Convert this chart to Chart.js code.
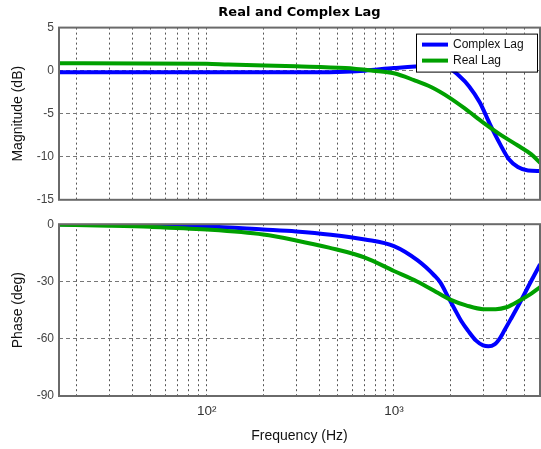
<!DOCTYPE html>
<html>
  <head>
    <title>Real and Complex Lag</title>
    <style>
      body { margin: 0; background: #fff; }
      #wrap { position: relative; width: 541px; height: 449px; }
      canvas { position: absolute; left: 0; }
    </style>
  </head>
  <body>
    <div id="wrap">
      <canvas id="magChart" width="541" height="212" style="top: 0"></canvas>
      <canvas id="phaseChart" width="541" height="237" style="top: 212px"></canvas>
    </div>

    <script src="https://cdn.jsdelivr.net/npm/chart.js@4"></script>
    <script>
      // frequency axis (Hz), log scale
      const xMin = 16.2;
      const xMax = 6040;
      const xGridLines = [20, 30, 40, 50, 60, 70, 80, 90, 100, 200, 300, 400, 500, 600, 700, 800, 900, 1000, 2000, 3000, 4000, 5000, 6000];
      const xTickValues = [100, 1000];
      const xTickLabels = ["10\u00b2", "10\u00b3"];

      // magnitude (dB)
      const magFreqComplex = [16, 100, 300, 500, 700, 1000, 1500, 1800, 1970, 2230, 2520, 2880, 3260, 3690, 4120, 4600, 5210, 6050];
      const magComplex = [-0.2, -0.2, -0.2, -0.15, 0, 0.3, 0.5, 0.5, 0.3, -0.6, -1.8, -3.7, -6.2, -8.5, -10.3, -11.2, -11.6, -11.65];
      const magFreqReal = [16, 100, 130, 300, 550, 770, 1000, 1280, 1580, 1970, 2430, 2990, 3690, 4600, 5410, 6050];
      const magReal = [0.85, 0.8, 0.7, 0.5, 0.3, 0, -0.3, -1.1, -1.9, -3.1, -4.5, -6.0, -7.4, -8.7, -9.7, -10.7];

      // phase (deg)
      const phFreqComplex = [16, 30, 50, 100, 200, 300, 460, 700, 1000, 1340, 1650, 1770, 1970, 2100, 2300, 2500, 2750, 3000, 3200, 3450, 3700, 3880, 4200, 4720, 5400, 6050];
      const phComplex = [0, -0.3, -0.6, -1.2, -2.8, -3.8, -5.5, -8, -11.5, -19, -27, -30.5, -39, -44, -51, -56, -61, -63.5, -64, -63, -59.5, -56, -50, -41, -30, -21];
      const phFreqReal = [16, 30, 50, 100, 200, 300, 450, 700, 1000, 1330, 1760, 2000, 2430, 3000, 3500, 4000, 4700, 5400, 6050];
      const phReal = [-0.3, -0.8, -1.4, -2.8, -5.4, -8.5, -12.3, -17.5, -24.5, -30, -36.6, -39.5, -42.5, -44.5, -44.5, -43.5, -40, -36.5, -33];

      const seriesNames = ["Complex Lag", "Real Lag"];
      const blue = "#0000ff";
      const green = "#00a000";
      const textFont = '"Liberation Sans", Arial, sans-serif';

      function pts(xs, ys) {
        return xs.map((x, i) => ({ x: x, y: ys[i] }));
      }

      function series(label, color, data, order) {
        return {
          label: label,
          data: data,
          borderColor: color,
          backgroundColor: color,
          borderWidth: 4,
          pointRadius: 0,
          cubicInterpolationMode: "monotone",
          order: order,
        };
      }

      const framePlugin = {
        id: "frame",
        afterDatasetsDraw(chart) {
          const a = chart.chartArea;
          const ctx = chart.ctx;
          ctx.save();
          ctx.strokeStyle = "#6a6a6a";
          ctx.lineWidth = 2;
          ctx.strokeRect(a.left, a.top, a.right - a.left, a.bottom - a.top);
          ctx.restore();
        },
      };

      const boxLegend = {
        id: "boxLegend",
        afterDraw(chart) {
          const a = chart.chartArea;
          const ctx = chart.ctx;
          const w = 121, h = 38;
          const x = a.right - 3 - w, y = a.top + 6;
          ctx.save();
          ctx.fillStyle = "#fff";
          ctx.fillRect(x, y, w, h);
          ctx.strokeStyle = "#000";
          ctx.lineWidth = 1;
          ctx.strokeRect(x + 0.5, y + 0.5, w, h);
          ctx.font = "12px " + textFont;
          ctx.textBaseline = "middle";
          chart.data.datasets.forEach((ds, i) => {
            const ly = y + 11 + i * 16;
            ctx.strokeStyle = ds.borderColor;
            ctx.lineWidth = 4;
            ctx.beginPath();
            ctx.moveTo(x + 6, ly);
            ctx.lineTo(x + 32, ly);
            ctx.stroke();
            ctx.fillStyle = "#111";
            ctx.fillText(ds.label, x + 37, ly + 0.5);
          });
          ctx.restore();
        },
      };

      function freqAxis(showLabels, height) {
        return {
          type: "logarithmic",
          min: xMin,
          max: xMax,
          afterBuildTicks: (s) => {
            s.ticks = xGridLines.map((v) => ({ value: v }));
          },
          afterFit: (s) => {
            s.height = height;
            s.paddingLeft = 0;
            s.paddingRight = 0;
          },
          ticks: {
            display: showLabels,
            autoSkip: false,
            maxRotation: 0,
            padding: 7,
            color: "#333",
            font: { family: textFont, size: 13.5 },
            callback: (v) => {
              const i = xTickValues.indexOf(Number(v));
              return i >= 0 ? xTickLabels[i] : "";
            },
          },
          grid: { color: "#555", lineWidth: 1, drawTicks: false },
          border: { display: false, dash: [2, 3] },
          title: {
            display: showLabels,
            text: "Frequency (Hz)",
            color: "#111",
            font: { family: textFont, size: 14 },
            padding: { top: 0, bottom: 4 },
          },
        };
      }

      function valueAxis(min, max, step, label) {
        return {
          min: min,
          max: max,
          afterFit: (s) => {
            s.width = 59;
          },
          ticks: {
            stepSize: step,
            padding: 5,
            color: "#444",
            font: { family: textFont, size: 12 },
          },
          grid: { color: "#777", lineWidth: 1, drawTicks: false },
          border: { display: false, dash: [4, 3] },
          title: {
            display: true,
            text: label,
            color: "#111",
            font: { family: textFont, size: 14 },
            padding: { top: 10, bottom: 0 },
          },
        };
      }

      new Chart(document.getElementById("magChart").getContext("2d"), {
        type: "line",
        data: {
          datasets: [
            series(seriesNames[0], blue, pts(magFreqComplex, magComplex), 1),
            series(seriesNames[1], green, pts(magFreqReal, magReal), 0),
          ],
        },
        options: {
          responsive: false,
          animation: false,
          layout: { padding: { top: 0, right: 1, bottom: 0, left: 0 } },
          plugins: {
            legend: { display: false },
            tooltip: { enabled: false },
            title: {
              display: true,
              fullSize: false,
              text: "Real and Complex Lag",
              color: "#000",
              font: { family: '"DejaVu Sans", sans-serif', size: 13, weight: "bold" },
              padding: { top: 5, bottom: 7 },
            },
          },
          scales: {
            x: freqAxis(false, 9),
            y: valueAxis(-15, 5, 5, "Magnitude (dB)"),
          },
        },
        plugins: [framePlugin, boxLegend],
      });

      new Chart(document.getElementById("phaseChart").getContext("2d"), {
        type: "line",
        data: {
          datasets: [
            series(seriesNames[0], blue, pts(phFreqComplex, phComplex), 1),
            series(seriesNames[1], green, pts(phFreqReal, phReal), 0),
          ],
        },
        options: {
          responsive: false,
          animation: false,
          layout: { padding: { top: 11, right: 1, bottom: 0, left: 0 } },
          plugins: {
            legend: { display: false },
            tooltip: { enabled: false },
          },
          scales: {
            x: freqAxis(true, 53),
            y: valueAxis(-90, 0, 30, "Phase (deg)"),
          },
        },
        plugins: [framePlugin],
      });
    </script>
  </body>
</html>
